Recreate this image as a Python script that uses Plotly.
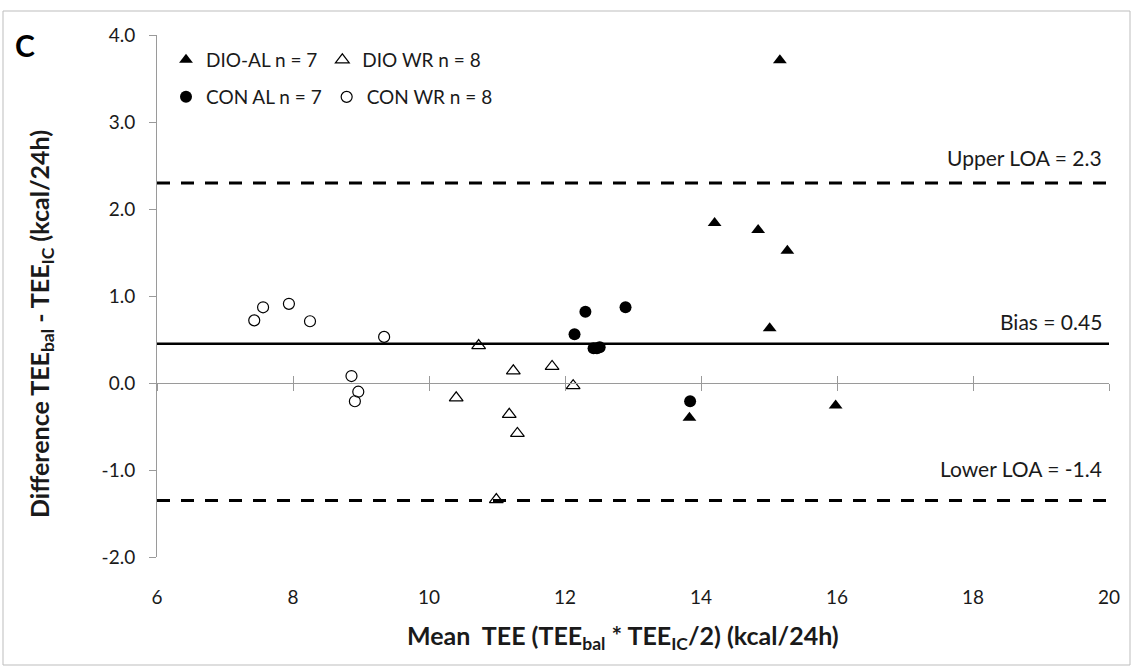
import plotly.graph_objects as go

# Bland-Altman data: mean TEE (x) vs. difference TEE_bal - TEE_IC (y)
dio_al_mean = [14.20, 14.84, 15.27, 15.01, 13.83, 15.98, 15.16]
dio_al_diff = [1.84, 1.76, 1.52, 0.63, -0.40, -0.26, 3.71]

dio_wr_mean = [10.73, 11.24, 11.81, 12.12, 10.40, 11.18, 11.30, 10.99]
dio_wr_diff = [0.43, 0.14, 0.19, -0.03, -0.17, -0.36, -0.58, -1.34]

con_al_mean = [12.30, 12.89, 12.14, 12.42, 12.51, 12.47, 13.84]
con_al_diff = [0.82, 0.87, 0.56, 0.40, 0.41, 0.40, -0.21]

con_wr_mean = [7.43, 7.56, 7.94, 8.25, 9.34, 8.86, 8.96, 8.91]
con_wr_diff = [0.72, 0.87, 0.91, 0.71, 0.53, 0.08, -0.10, -0.21]

group_names = ["DIO-AL n = 7", "DIO WR n = 8", "CON AL n = 7", "CON WR n = 8"]

bias = 0.45
upper_loa = 2.3
lower_loa = -1.35

x_ticks = [6, 8, 10, 12, 14, 16, 18, 20]
x_tick_labels = ["6", "8", "10", "12", "14", "16", "18", "20"]
y_ticks = [-2, -1, 0, 1, 2, 3, 4]
y_tick_labels = ["-2.0", "-1.0", "0.0", "1.0", "2.0", "3.0", "4.0"]

x_title = "<b>Mean  TEE (TEE<sub>bal</sub> * TEE<sub>IC</sub>/2) (kcal/24h)</b>"
y_title = "<b>Difference TEE<sub>bal</sub> - TEE<sub>IC</sub> (kcal/24h)</b>"

x_range = [6, 20]
y_range = [-2, 4]

FONT = "Lato, 'Open Sans', sans-serif"
TXT = "#1a1a1a"
AXIS_GREY = "#9a9a9a"

# page geometry (px)
W, H = 1133, 669
ML, MR, MT, MB = 157, 24, 35, 112
PW, PH = W - ML - MR, H - MT - MB


def px_x(p):
    return (p - ML) / PW


def px_y(p):
    return 1 - (p - MT) / PH


fig = go.Figure()

fig.add_trace(go.Scatter(
    x=dio_al_mean, y=dio_al_diff, mode="markers", name=group_names[0],
    marker=dict(symbol="triangle-up", size=12, color="black"),
    legend="legend"))
fig.add_trace(go.Scatter(
    x=dio_wr_mean, y=dio_wr_diff, mode="markers", name=group_names[1],
    marker=dict(symbol="triangle-up-open", size=12, color="black",
                line=dict(width=1.2)),
    legend="legend"))
fig.add_trace(go.Scatter(
    x=con_al_mean, y=con_al_diff, mode="markers", name=group_names[2],
    marker=dict(symbol="circle", size=12, color="black"),
    legend="legend2"))
fig.add_trace(go.Scatter(
    x=con_wr_mean, y=con_wr_diff, mode="markers", name=group_names[3],
    marker=dict(symbol="circle-open", size=11, color="black",
                line=dict(width=1.2)),
    legend="legend2"))

# empty traces so the crossing axis at y = 0 gets drawn
fig.add_trace(go.Scatter(x=[], y=[], xaxis="x2", showlegend=False, hoverinfo="skip"))
fig.add_trace(go.Scatter(x=[], y=[], xaxis="x3", showlegend=False, hoverinfo="skip"))

zero_pos = (0 - y_range[0]) / (y_range[1] - y_range[0])

cross_axis = dict(
    range=x_range, overlaying="x", anchor="free", position=zero_pos,
    tickvals=x_ticks, showticklabels=False, ticklen=7, tickwidth=1,
    tickcolor=AXIS_GREY, showgrid=False, zeroline=False, side="bottom",
)

# reference lines
shapes = [
    dict(type="line", xref="paper", x0=0, x1=1, yref="y", y0=bias, y1=bias,
         line=dict(color="black", width=2.5), layer="below"),
    dict(type="line", xref="paper", x0=0, x1=1, yref="y", y0=upper_loa, y1=upper_loa,
         line=dict(color="black", width=3, dash="13px,11px"), layer="below"),
    dict(type="line", xref="paper", x0=0, x1=1, yref="y", y0=lower_loa, y1=lower_loa,
         line=dict(color="black", width=3, dash="13px,11px"), layer="below"),
    # outer chart frame
    dict(type="rect", xref="paper", yref="paper",
         x0=px_x(3), x1=px_x(1130), y0=px_y(665), y1=px_y(11),
         line=dict(color="#bdbdbd", width=1), fillcolor="rgba(0,0,0,0)"),
]

label_font = dict(family=FONT, size=21, color=TXT)
title_font = dict(family=FONT, size=25, color=TXT)
annotations = [
    dict(text="<b>C</b>", xref="paper", yref="paper", x=px_x(25), y=px_y(45),
         xanchor="center", yanchor="middle", showarrow=False,
         font=dict(family=FONT, size=30, color="black")),
    dict(text=f"Upper LOA = {upper_loa:.1f}", xref="paper", yref="y",
         x=px_x(1104), y=upper_loa, xanchor="right", yanchor="bottom",
         yshift=11, showarrow=False, font=label_font),
    dict(text=f"Bias = {bias:.2f}", xref="paper", yref="y",
         x=px_x(1104), y=bias, xanchor="right", yanchor="bottom",
         yshift=8, showarrow=False, font=label_font),
    dict(text=f"Lower LOA = {lower_loa:.1f}", xref="paper", yref="y",
         x=px_x(1104), y=lower_loa, xanchor="right", yanchor="bottom",
         yshift=17, showarrow=False, font=label_font),
    # axis titles
    dict(text=x_title, xref="paper", yref="paper", x=px_x(623), y=px_y(637),
         xanchor="center", yanchor="middle", showarrow=False, font=title_font),
    dict(text=y_title, xref="paper", yref="paper", x=px_x(41), y=px_y(324),
         xanchor="center", yanchor="middle", textangle=-90, showarrow=False,
         font=title_font),
]

legend_common = dict(
    orientation="h", xref="paper", yref="paper", xanchor="left",
    yanchor="middle", bgcolor="rgba(0,0,0,0)", borderwidth=0,
    font=dict(family=FONT, size=19, color=TXT),
    itemclick=False, tracegroupgap=0,
)

fig.update_layout(
    width=W, height=H,
    margin=dict(l=ML, r=MR, t=MT, b=MB, autoexpand=False),
    paper_bgcolor="white", plot_bgcolor="white",
    font=dict(family=FONT, size=19, color=TXT),
    showlegend=True,
    legend=dict(x=px_x(166), y=px_y(60), **legend_common),
    legend2=dict(x=px_x(166), y=px_y(97), **legend_common),
    xaxis=dict(
        range=x_range, tickvals=x_ticks, ticktext=x_tick_labels,
        ticks="", showline=False, showgrid=False, zeroline=False,
        ticklabelstandoff=27,
        tickfont=dict(family=FONT, size=19, color=TXT),
    ),
    xaxis2=dict(showline=True, linecolor=AXIS_GREY, linewidth=1,
                ticks="outside", **cross_axis),
    xaxis3=dict(showline=False, ticks="inside", **cross_axis),
    yaxis=dict(
        range=y_range, tickvals=y_ticks, ticktext=y_tick_labels,
        ticks="outside", ticklen=7, tickcolor=AXIS_GREY,
        showline=True, linecolor=AXIS_GREY, linewidth=1,
        showgrid=False, zeroline=False, ticklabelstandoff=10,
        tickfont=dict(family=FONT, size=19, color=TXT),
    ),
    shapes=shapes,
    annotations=annotations,
)

fig.write_html("out.html")
